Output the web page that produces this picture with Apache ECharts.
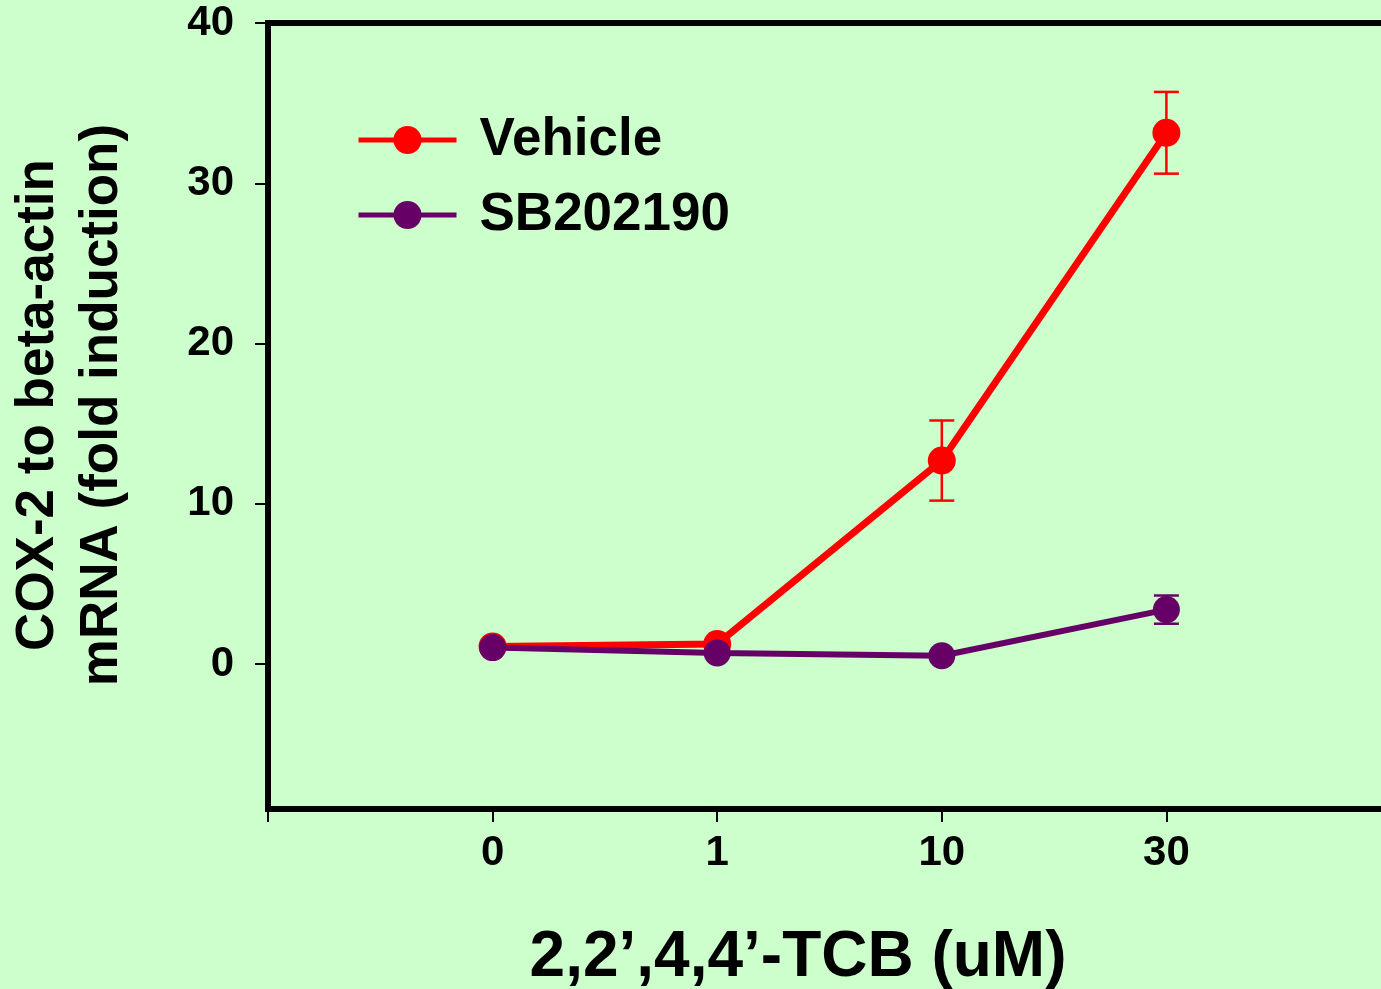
<!DOCTYPE html>
<html>
<head>
<meta charset="utf-8">
<script src="https://cdn.jsdelivr.net/npm/echarts@6/dist/echarts.min.js"></script>
<style>
html,body{margin:0;padding:0;background:#CCFFCC;}
#chart{width:1381px;height:989px;}
</style>
</head>
<body>
<div id="chart"></div>
<script>
var categories = ['0', '1', '10', '30'];
var vehicleMean = [1.1, 1.25, 12.7, 33.15];
var vehicleErr = [0, 0, 2.5, 2.55];
var sbMean = [1.03, 0.7, 0.52, 3.4];
var sbErr = [0, 0, 0, 0.88];
var yTicks = [0, 10, 20, 30, 40];
var xTitle = '2,2\u2019,4,4\u2019-TCB (uM)';
var yTitle = 'COX-2 to beta-actin\nmRNA (fold induction)';

var FONT = 'Liberation Sans, Arial, sans-serif';
var RED = '#FF0000';
var PURPLE = '#660066';

function pts(arr) { return arr.map(function (v, i) { return [i, v]; }); }
function errData(mean, err) {
  var out = [];
  mean.forEach(function (m, i) { if (err[i] > 0) out.push([i, m - err[i], m + err[i]]); });
  return out;
}
function errSeries(data, color) {
  return {
    type: 'custom',
    silent: true,
    z: 1,
    data: data,
    renderItem: function (params, api) {
      var x = api.value(0);
      var lo = api.coord([x, api.value(1)]);
      var hi = api.coord([x, api.value(2)]);
      var w = 12.5;
      var st = { stroke: color, lineWidth: 2.5 };
      return {
        type: 'group',
        children: [
          { type: 'line', shape: { x1: lo[0], y1: lo[1], x2: hi[0], y2: hi[1] }, style: st },
          { type: 'line', shape: { x1: lo[0] - w, y1: lo[1], x2: lo[0] + w, y2: lo[1] }, style: st },
          { type: 'line', shape: { x1: hi[0] - w, y1: hi[1], x2: hi[0] + w, y2: hi[1] }, style: st }
        ]
      };
    }
  };
}

var chart = echarts.init(document.getElementById('chart'));
var legendCommon = {
  left: 356,
  orient: 'vertical',
  padding: 0,
  itemWidth: 98,
  itemHeight: 35,
  selectedMode: false,
  lineStyle: { width: 5 },
  textStyle: { fontFamily: FONT, fontWeight: 'bold', fontSize: 53, color: '#000', lineHeight: 35, padding: [0, 0, 0, 18] }
};
chart.setOption({
  backgroundColor: '#CCFFCC',
  animation: false,
  title: {
    text: xTitle,
    left: 798,
    top: 926,
    padding: 0,
    textAlign: 'center',
    textStyle: { fontFamily: FONT, fontWeight: 'bold', fontSize: 64, color: '#000' }
  },
  legend: [
    Object.assign({}, legendCommon, { top: 113.5, data: ['Vehicle'] }),
    Object.assign({}, legendCommon, { top: 188.5, data: ['SB202190'] })
  ],
  grid: {
    left: 268, top: 23, width: 1123, bottom: 180,
    outerBoundsMode: 'none',
    show: true, borderColor: '#000', borderWidth: 6, backgroundColor: 'transparent'
  },
  xAxis: {
    type: 'value',
    min: -1, max: 4, interval: 1,
    splitLine: { show: false },
    axisLine: { onZero: false, lineStyle: { color: '#000', width: 6 } },
    axisTick: { length: 13, lineStyle: { color: '#000', width: 2 } },
    axisLabel: {
      margin: 23,
      fontFamily: FONT, fontWeight: 'bold', fontSize: 42, color: '#000',
      formatter: function (v) { return (v >= 0 && v < categories.length) ? categories[v] : ''; }
    }
  },
  yAxis: {
    type: 'value',
    min: -9.04, max: 40,
    splitLine: { show: false },
    axisLine: { onZero: false, lineStyle: { color: '#000', width: 6 } },
    axisTick: { length: 13, customValues: yTicks, lineStyle: { color: '#000', width: 2 } },
    axisLabel: {
      customValues: yTicks,
      margin: 34,
      fontFamily: FONT, fontWeight: 'bold', fontSize: 42, color: '#000'
    },
    name: yTitle,
    nameLocation: 'middle',
    nameRotate: 90,
    nameGap: 134,
    nameTextStyle: { fontFamily: FONT, fontWeight: 'bold', fontSize: 53, lineHeight: 64, color: '#000', padding: [0, 0, 0, 22] }
  },
  series: [
    errSeries(errData(vehicleMean, vehicleErr), RED),
    errSeries(errData(sbMean, sbErr), PURPLE),
    {
      name: 'Vehicle', type: 'line', z: 3,
      data: pts(vehicleMean),
      symbol: 'circle', symbolSize: 28,
      itemStyle: { color: RED },
      lineStyle: { color: RED, width: 7 }
    },
    {
      name: 'SB202190', type: 'line', z: 4,
      data: pts(sbMean),
      symbol: 'circle', symbolSize: 27,
      itemStyle: { color: PURPLE },
      lineStyle: { color: PURPLE, width: 6 }
    }
  ]
});
</script>
</body>
</html>
